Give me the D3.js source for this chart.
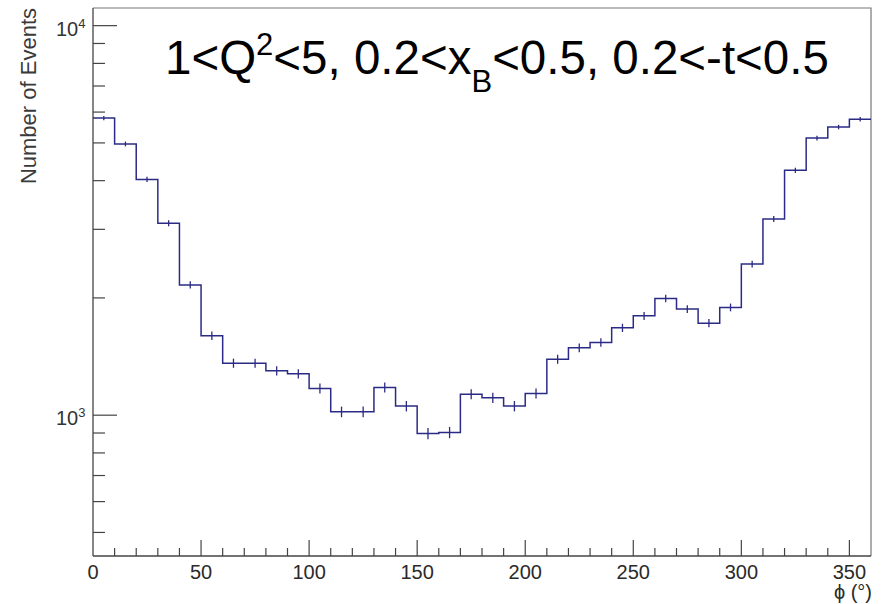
<!DOCTYPE html>
<html>
<head>
<meta charset="utf-8">
<script src="https://cdn.jsdelivr.net/npm/d3@7"></script>
<style>
  body { margin: 0; background: #fff; }
  text { font-family: "Liberation Sans", Arial, sans-serif; }
</style>
</head>
<body>
<script>
// Bordes de los bins en grados (36 bins de 10°)
const binEdges = d3.range(0, 361, 10);

// Cuentas por bin
const counts = [
  5790, 4970, 4030, 3110, 2160, 1600, 1360, 1360, 1300, 1277,
  1171, 1020, 1020, 1178, 1055, 897, 903, 1132, 1108, 1055,
  1137, 1392, 1489, 1537, 1676, 1799, 1994, 1872, 1723, 1891,
  2443, 3188, 4253, 5146, 5493, 5749
];

const xMajorTicks = [0, 50, 100, 150, 200, 250, 300, 350];
const xMinorTicks = d3.range(10, 360, 10);
const yMajorTicks = [1000, 10000];
const yMinorTicks = [500, 600, 700, 800, 900, 2000, 3000, 4000, 5000, 6000, 7000, 8000, 9000];

const width = 881, height = 604;
const margin = { left: 93, right: 10, top: 8, bottom: 48 };

const svg = d3.select("body")
  .append("svg")
  .attr("width", width)
  .attr("height", height);

const x = d3.scaleLinear()
  .domain([0, 360])
  .range([margin.left, width - margin.right]);

const y = d3.scaleLog()
  .domain([435, 11100])
  .range([height - margin.bottom, margin.top]);

// Marco: arriba y derecha en gris
svg.append("path")
  .attr("d", `M${x(0)},${y.range()[1]}H${x(360)}V${y.range()[0]}`)
  .attr("fill", "none")
  .attr("stroke", "#777")
  .attr("stroke-width", 1.2);

// Eje X
const gx = svg.append("g").attr("transform", `translate(0,${y.range()[0]})`);
gx.append("line")
  .attr("x1", x(0)).attr("x2", x(360))
  .attr("stroke", "#444").attr("stroke-width", 1.3);
gx.selectAll("line.minor")
  .data(xMinorTicks.filter(d => d % 50 !== 0))
  .join("line")
  .attr("class", "minor")
  .attr("x1", d => x(d)).attr("x2", d => x(d))
  .attr("y1", 0).attr("y2", -8)
  .attr("stroke", "#444").attr("stroke-width", 1.2);
gx.selectAll("line.major")
  .data(xMajorTicks.filter(d => d > 0))
  .join("line")
  .attr("class", "major")
  .attr("x1", d => x(d)).attr("x2", d => x(d))
  .attr("y1", 0).attr("y2", -16)
  .attr("stroke", "#444").attr("stroke-width", 1.2);
gx.selectAll("text")
  .data(xMajorTicks)
  .join("text")
  .attr("x", d => x(d))
  .attr("y", 23)
  .attr("text-anchor", "middle")
  .attr("font-size", 20)
  .attr("fill", "#2a2a2a")
  .text(d => d);

svg.append("text")
  .attr("x", x(360) + 1)
  .attr("y", 599)
  .attr("text-anchor", "end")
  .attr("font-size", 20)
  .attr("fill", "#2a2a2a")
  .text("ϕ (°)");

// Eje Y (logarítmico)
const gy = svg.append("g").attr("transform", `translate(${x(0)},0)`);
gy.append("line")
  .attr("y1", y.range()[0]).attr("y2", y.range()[1])
  .attr("stroke", "#444").attr("stroke-width", 1.3);
gy.selectAll("line.minor")
  .data(yMinorTicks)
  .join("line")
  .attr("class", "minor")
  .attr("x1", 0).attr("x2", 12)
  .attr("y1", d => y(d)).attr("y2", d => y(d))
  .attr("stroke", "#444").attr("stroke-width", 1.2);
gy.selectAll("line.major")
  .data(yMajorTicks)
  .join("line")
  .attr("class", "major")
  .attr("x1", 0).attr("x2", 24)
  .attr("y1", d => y(d)).attr("y2", d => y(d))
  .attr("stroke", "#444").attr("stroke-width", 1.2);
const yLab = gy.selectAll("text")
  .data(yMajorTicks)
  .join("text")
  .attr("x", -37)
  .attr("y", d => y(d) + 10)
  .attr("text-anchor", "start")
  .attr("font-size", 20)
  .attr("fill", "#333");
yLab.append("tspan").text("10");
yLab.append("tspan")
  .attr("font-size", 13)
  .attr("dy", -8)
  .text(d => Math.round(Math.log10(d)));

svg.append("text")
  .attr("transform", `translate(36,${y.range()[1]}) rotate(-90)`)
  .attr("text-anchor", "end")
  .attr("font-size", 22)
  .attr("fill", "#3a3a3a")
  .text("Number of Events");

// Histograma en escalones
const bins = counts.map((c, i) => ({ x0: binEdges[i], x1: binEdges[i + 1], n: c }));

const step = d3.line()
  .x(d => x(d[0]))
  .y(d => y(d[1]))
  .curve(d3.curveStepAfter);
const stepPts = bins.map(b => [b.x0, b.n]);
stepPts.push([360, counts[counts.length - 1]]);

svg.append("path")
  .attr("d", step(stepPts))
  .attr("fill", "none")
  .attr("stroke", "#2b2b86")
  .attr("stroke-width", 1.5);

// Barras de error (Poisson)
svg.selectAll("line.err")
  .data(bins)
  .join("line")
  .attr("class", "err")
  .attr("x1", d => x((d.x0 + d.x1) / 2))
  .attr("x2", d => x((d.x0 + d.x1) / 2))
  .attr("y1", d => y(d.n - Math.sqrt(d.n)))
  .attr("y2", d => y(d.n + Math.sqrt(d.n)))
  .attr("stroke", "#2b2b86")
  .attr("stroke-width", 1.3);

// Título con los cortes cinemáticos
const title = svg.append("text")
  .attr("x", 165)
  .attr("y", 74)
  .attr("font-size", 47.5)
  .attr("fill", "#000");
title.append("tspan").text("1<Q");
title.append("tspan").attr("font-size", 31).attr("dy", -19).text("2");
title.append("tspan").attr("dy", 19).text("<5, 0.2<x");
title.append("tspan").attr("font-size", 31).attr("dy", 18).text("B");
title.append("tspan").attr("dy", -18).text("<0.5, 0.2<-t<0.5");
</script>
</body>
</html>
